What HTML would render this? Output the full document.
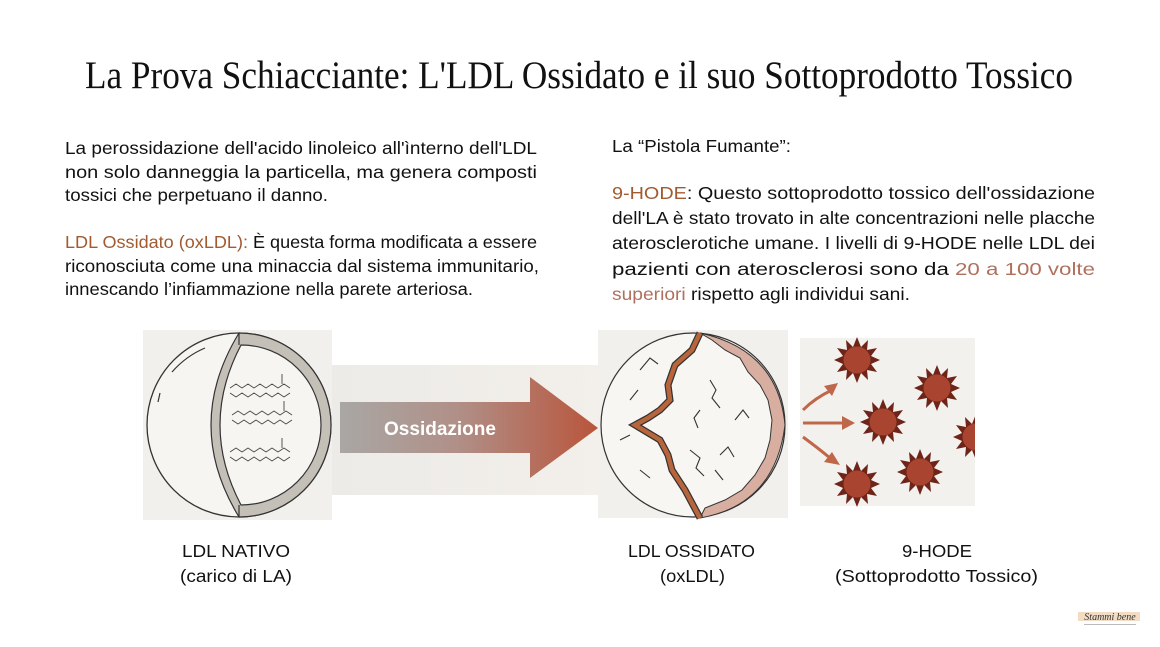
<!DOCTYPE html>
<html><head><meta charset="utf-8"><style>
html,body{margin:0;padding:0;background:#fff;}
svg{display:block;}
.b{font-family:"Liberation Sans",sans-serif;font-size:17.5px;fill:#111;}
.o{fill:#a25a30;}
.p{fill:#b0705e;}
.l{font-family:"Liberation Sans",sans-serif;font-size:17.5px;fill:#111;}
</style></head><body>
<svg width="1160" height="647" viewBox="0 0 1160 647" xmlns="http://www.w3.org/2000/svg">
<defs>
<linearGradient id="ag" x1="0" x2="1" y1="0" y2="0">
<stop offset="0" stop-color="#a9a7a4"/><stop offset="0.45" stop-color="#b09088"/><stop offset="1" stop-color="#b9553c"/>
</linearGradient>
<linearGradient id="bg2" x1="0" x2="1"><stop offset="0" stop-color="#ecebe8"/><stop offset="1" stop-color="#f3efea"/></linearGradient>
<g id="star"><polygon points="0,-23 4,-13 11,-20 10,-10 20,-12 14,-4 23,0 14,4 20,12 10,10 11,20 4,13 0,23 -4,13 -11,20 -10,10 -20,12 -14,4 -23,0 -14,-4 -20,-12 -10,-10 -11,-20 -4,-13" fill="#6e2418"/><circle r="13.5" fill="#a8442f"/></g>
</defs>

<text x="85" y="88" textLength="988" lengthAdjust="spacingAndGlyphs" style="font-family:'Liberation Serif',serif;font-size:39px;fill:#111">La Prova Schiacciante: L'LDL Ossidato e il suo Sottoprodotto Tossico</text>

<g class="b">
<text x="65" y="154" textLength="472" lengthAdjust="spacingAndGlyphs">La perossidazione dell'acido linoleico all'ìnterno dell'LDL</text>
<text x="65" y="178" textLength="472" lengthAdjust="spacingAndGlyphs">non solo danneggia la particella, ma genera composti</text>
<text x="65" y="201" textLength="263" lengthAdjust="spacingAndGlyphs">tossici che perpetuano il danno.</text>
<text x="65" y="248" textLength="472" lengthAdjust="spacingAndGlyphs"><tspan class="o">LDL Ossidato (oxLDL):</tspan> È questa forma modificata a essere</text>
<text x="65" y="272" textLength="474" lengthAdjust="spacingAndGlyphs">riconosciuta come una minaccia dal sistema immunitario,</text>
<text x="65" y="295" textLength="408" lengthAdjust="spacingAndGlyphs">innescando l’infiammazione nella parete arteriosa.</text>

<text x="612" y="152" textLength="179" lengthAdjust="spacingAndGlyphs">La “Pistola Fumante”:</text>
<text x="612" y="199" textLength="483" lengthAdjust="spacingAndGlyphs"><tspan class="o">9-HODE</tspan>: Questo sottoprodotto tossico dell'ossidazione</text>
<text x="612" y="224" textLength="483" lengthAdjust="spacingAndGlyphs">dell'LA è stato trovato in alte concentrazioni nelle placche</text>
<text x="612" y="249" textLength="483" lengthAdjust="spacingAndGlyphs">aterosclerotiche umane. I livelli di 9-HODE nelle LDL dei</text>
<text x="612" y="275" textLength="483" lengthAdjust="spacingAndGlyphs">pazienti con aterosclerosi sono da <tspan class="p">20 a 100 volte</tspan></text>
<text x="612" y="300" textLength="298" lengthAdjust="spacingAndGlyphs"><tspan class="p">superiori</tspan> rispetto agli individui sani.</text>
</g>

<!-- left panel -->
<rect x="143" y="330" width="189" height="190" fill="#f2f0ec"/>
<circle cx="239" cy="425" r="92" fill="#f6f5f2" stroke="#333" stroke-width="1.3"/>
<path d="M239,333 A92,92 0 0 1 239,517 Q183,425 239,333 Z" fill="#c4c0b8" stroke="#333" stroke-width="1.2"/>
<path d="M241,345 A80,80 0 0 1 241,505 Q199,425 241,345 Z" fill="#f6f5f2" stroke="#333" stroke-width="1.2"/>
<line x1="239" y1="333" x2="239" y2="345" stroke="#333" stroke-width="1.2"/>
<line x1="239" y1="505" x2="239" y2="517" stroke="#333" stroke-width="1.2"/>
<path d="M172,372 Q186,356 205,348 M160,393 L158,402" fill="none" stroke="#333" stroke-width="1.2"/>
<g fill="none" stroke="#444" stroke-width="0.9">
<path d="M230,388 l6,-4 6,4 6,-4 6,4 6,-4 6,4 6,-4 6,4 6,-4 6,4 M230,393 l6,4 6,-4 6,4 6,-4 6,4 6,-4 6,4 6,-4 6,4 6,-4 M282,384 v-10"/>
<path d="M232,415 l6,-4 6,4 6,-4 6,4 6,-4 6,4 6,-4 6,4 6,-4 6,4 M232,420 l6,4 6,-4 6,4 6,-4 6,4 6,-4 6,4 6,-4 6,4 6,-4 M284,411 v-10"/>
<path d="M230,452 l6,-4 6,4 6,-4 6,4 6,-4 6,4 6,-4 6,4 6,-4 6,4 M230,457 l6,4 6,-4 6,4 6,-4 6,4 6,-4 6,4 6,-4 6,4 6,-4 M282,448 v-10"/>
</g>

<!-- arrow -->
<rect x="332" y="365" width="266" height="130" fill="url(#bg2)"/>
<polygon points="340,402 530,402 530,377 598,428 530,478 530,453 340,453" fill="url(#ag)"/>
<text x="440" y="435" text-anchor="middle" style="font-family:'Liberation Sans',sans-serif;font-size:19px;font-weight:bold;fill:#fff">Ossidazione</text>

<!-- oxidized LDL -->
<rect x="598" y="330" width="190" height="188" fill="#f2f0ec"/>
<circle cx="693" cy="425" r="92" fill="#f8f6f3" stroke="#333" stroke-width="1.2"/>
<path d="M700,333 L712,340 725,350 740,358 748,372 760,385 768,400 772,420 770,440 765,458 755,475 742,490 725,500 705,508 700,518 Q775,505 785,425 Q778,350 700,333 Z" fill="#d8aea0" stroke="#333" stroke-width="1"/>
<path d="M700,333 L692,350 675,365 668,385 670,400 660,410 648,418 635,425 660,440 668,455 672,470 685,490 700,518" fill="none" stroke="#333" stroke-width="7"/>
<path d="M700,333 L692,350 675,365 668,385 670,400 660,410 648,418 635,425 660,440 668,455 672,470 685,490 700,518" fill="none" stroke="#b9653c" stroke-width="4.5"/>
<g fill="none" stroke="#333" stroke-width="1.1">
<path d="M640,370 l10,-12 8,6 M630,400 l8,-10 M710,380 l6,10 -4,8 8,10 M700,410 l-6,8 4,10 M735,420 l8,-10 6,8 M690,450 l10,8 -4,10 8,8 M720,455 l8,-8 6,10 M640,470 l10,8 M620,440 l10,-5 M715,470 l8,10"/>
</g>

<!-- stars panel -->
<rect x="800" y="338" width="175" height="168" fill="#f3f1ee"/>
<use href="#star" x="857" y="360"/>
<use href="#star" x="937" y="388"/>
<use href="#star" x="883" y="422"/>
<use href="#star" x="976" y="437"/>
<use href="#star" x="857" y="484"/>
<use href="#star" x="920" y="472"/>
<rect x="975" y="330" width="40" height="180" fill="#fff"/>
<g fill="none" stroke="#c0674a" stroke-width="3">
<path d="M803,410 Q815,398 832,390"/><path d="M803,423 L845,423"/><path d="M803,437 Q818,448 830,458"/>
</g>
<g fill="#c0674a">
<polygon points="838,383 824,386 832,396"/><polygon points="855,423 842,416 842,430"/><polygon points="840,465 832,452 824,462"/>
</g>

<!-- labels -->
<g class="l">
<text x="182" y="557" textLength="108" lengthAdjust="spacingAndGlyphs">LDL NATIVO</text>
<text x="180" y="582" textLength="112" lengthAdjust="spacingAndGlyphs">(carico di LA)</text>
<text x="628" y="557" textLength="127" lengthAdjust="spacingAndGlyphs">LDL OSSIDATO</text>
<text x="660" y="582" textLength="65" lengthAdjust="spacingAndGlyphs">(oxLDL)</text>
<text x="902" y="557" textLength="70" lengthAdjust="spacingAndGlyphs">9-HODE</text>
<text x="835" y="582" textLength="203" lengthAdjust="spacingAndGlyphs">(Sottoprodotto Tossico)</text>
</g>

<!-- logo -->
<rect x="1078" y="612" width="62" height="9" fill="#f2dcc4"/>
<text x="1110" y="620" text-anchor="middle" style="font-family:'Liberation Serif',serif;font-style:italic;font-size:10px;fill:#333">Stammi bene</text>
<rect x="1084" y="624" width="52" height="1" fill="#bbb"/>
</svg>
</body></html>
